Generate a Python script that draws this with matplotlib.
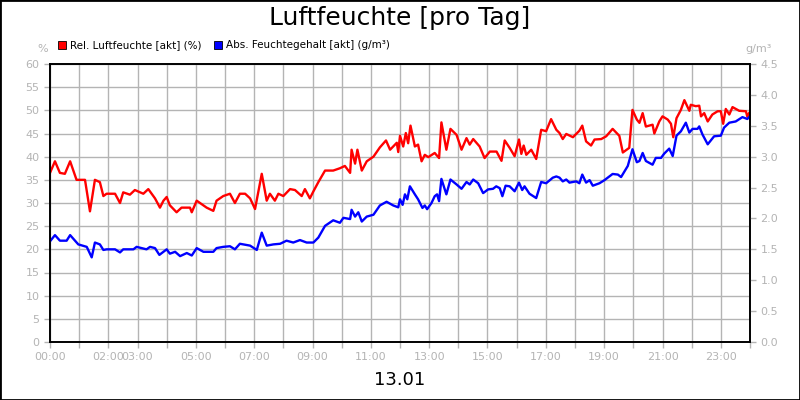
import matplotlib
matplotlib.use("Agg")
import matplotlib.pyplot as plt
from matplotlib.patches import Rectangle

# Rel. Luftfeuchte (%) - hours / values
rel_h = [0.00, 0.17, 0.34, 0.51, 0.69, 0.91, 1.20, 1.37, 1.54, 1.71, 1.83, 1.94, 2.23, 2.40, 2.51, 2.74,
         2.91, 3.20, 3.37, 3.60, 3.77, 3.89, 4.00, 4.11, 4.34, 4.51, 4.80, 4.86, 5.03, 5.37, 5.60, 5.71,
         5.94, 6.17, 6.34, 6.51, 6.69, 6.86, 7.03, 7.26, 7.43, 7.54, 7.71, 7.83, 8.00, 8.23, 8.40, 8.63,
         8.74, 8.91, 9.03, 9.20, 9.43, 9.71, 9.94, 10.11, 10.29, 10.34, 10.46, 10.54, 10.69, 10.86, 11.09,
         11.31, 11.52, 11.66, 11.89, 11.94, 12.00,
         12.11, 12.20, 12.28, 12.36, 12.51, 12.62, 12.74, 12.85, 12.97, 13.19, 13.34, 13.42, 13.59, 13.73,
         13.94, 14.11, 14.28, 14.39, 14.51, 14.73, 14.90, 15.08, 15.31, 15.48, 15.59, 15.76, 15.93, 16.08,
         16.16, 16.24, 16.33, 16.50, 16.67, 16.84, 17.01, 17.18, 17.36, 17.47, 17.58, 17.70, 17.93, 18.15,
         18.25, 18.38, 18.55, 18.67, 18.90, 19.07, 19.29, 19.52, 19.64, 19.86, 19.97, 20.12, 20.21, 20.32,
         20.43, 20.66, 20.72, 20.89, 21.00, 21.18, 21.29, 21.37, 21.48, 21.63, 21.75, 21.92, 21.97, 22.14,
         22.26, 22.32, 22.43, 22.55, 22.71, 22.89, 23.00, 23.08, 23.17, 23.29, 23.40, 23.63, 23.86, 23.91,
         23.97]
rel_v = [36.5, 39, 36.5, 36.3, 39, 35, 35, 28.2, 35, 34.5, 31.5, 32, 32, 30, 32.3, 31.8,
         32.8, 32, 33, 31, 29, 30.5, 31.3, 29.5, 28, 29, 29, 28, 30.5, 29, 28.3, 30.5,
         31.5, 32, 30, 32, 32, 31, 28.7, 36.3, 30.5, 32, 30.5, 32, 31.5, 33, 32.8, 31.5,
         33, 31, 32.5, 34.5, 37, 37, 37.5, 38, 36.5, 41.5, 38.5, 41.5, 37, 39, 40,
         42, 43.5, 41.5, 43, 41, 44.5,
         42.2, 45.1, 42.9, 46.7, 42.2, 42.6, 39.0, 40.4, 39.9, 40.8, 39.7, 47.4, 41.5, 46.0,
         44.7, 41.5, 44.0, 42.6, 43.8, 42.2, 39.7, 41.1, 41.1, 39.1, 43.5, 41.9, 40.1, 43.7,
         40.6, 42.4, 40.4, 41.5, 39.5, 45.8, 45.5, 48.1, 45.8, 45.1, 43.8, 44.9, 44.2, 45.6,
         46.7, 43.3, 42.4, 43.7, 43.8, 44.4, 46.0, 44.5, 40.9, 41.9, 50.1, 48.0, 47.3, 49.4,
         46.5, 46.9, 45.0, 47.6, 48.7, 48.0, 47.1, 44.2, 48.3, 50.1, 52.2, 49.9, 51.2, 50.9,
         51.0, 48.7, 49.4, 47.6, 49.1, 49.8, 49.8, 47.1, 50.3, 49.1, 50.7, 49.9, 49.8, 48.6,
         49.4]

# Abs. Feuchtegehalt (g/m³)
abs_h = [0.00, 0.17, 0.34, 0.57, 0.69, 0.97, 1.26, 1.43, 1.54, 1.71, 1.83, 1.94, 2.23, 2.40, 2.51, 2.86,
         2.97, 3.31, 3.43, 3.60, 3.75, 3.89, 4.00, 4.11, 4.29, 4.46, 4.69, 4.86, 5.03, 5.26, 5.60, 5.71,
         5.94, 6.17, 6.34, 6.51, 6.86, 7.09, 7.26, 7.43, 7.66, 7.89, 8.11, 8.34, 8.57, 8.80, 9.03, 9.20,
         9.43, 9.71, 9.94, 10.06, 10.29, 10.34, 10.46, 10.57, 10.69, 10.86, 11.09, 11.31, 11.54, 11.77,
         11.94, 12.00,
         12.09, 12.17, 12.25, 12.34, 12.51, 12.62, 12.77, 12.85, 12.93, 13.08, 13.19, 13.27, 13.34, 13.42,
         13.59, 13.73, 13.94, 14.11, 14.28, 14.39, 14.51, 14.68, 14.85, 15.02, 15.19, 15.30, 15.42, 15.51,
         15.62, 15.76, 15.93, 16.08, 16.19, 16.27, 16.44, 16.67, 16.84, 17.01, 17.24, 17.36, 17.47, 17.58,
         17.70, 17.81, 18.04, 18.15, 18.25, 18.38, 18.50, 18.61, 18.84, 19.01, 19.29, 19.47, 19.58, 19.81,
         19.97, 20.12, 20.21, 20.32, 20.43, 20.66, 20.77, 20.95, 21.06, 21.23, 21.35, 21.48, 21.63, 21.80,
         21.92, 22.03, 22.20, 22.26, 22.37, 22.55, 22.77, 23.00, 23.11, 23.29, 23.51, 23.74, 23.91, 23.97]
abs_v = [1.63, 1.73, 1.64, 1.64, 1.73, 1.58, 1.54, 1.37, 1.61, 1.58, 1.49, 1.50, 1.50, 1.45, 1.50, 1.50,
         1.54, 1.50, 1.54, 1.52, 1.41, 1.46, 1.50, 1.43, 1.46, 1.39, 1.44, 1.40, 1.52, 1.46, 1.46, 1.52,
         1.54, 1.55, 1.50, 1.59, 1.56, 1.49, 1.77, 1.56, 1.58, 1.59, 1.64, 1.61, 1.65, 1.61, 1.61, 1.69,
         1.88, 1.97, 1.93, 2.01, 1.99, 2.14, 2.03, 2.10, 1.95, 2.03, 2.06, 2.21, 2.27, 2.21,
         2.18, 2.31,
         2.22, 2.39, 2.31, 2.52, 2.39, 2.31, 2.17, 2.21, 2.15, 2.25, 2.36, 2.39, 2.28, 2.64,
         2.39, 2.63, 2.55, 2.48, 2.59, 2.55, 2.63, 2.57, 2.41, 2.47, 2.48, 2.52, 2.49, 2.36,
         2.53, 2.52, 2.44, 2.58, 2.46, 2.52, 2.40, 2.33, 2.59, 2.57, 2.66, 2.68, 2.66, 2.60,
         2.63, 2.58, 2.60, 2.57, 2.71, 2.58, 2.62, 2.53, 2.57, 2.62, 2.72, 2.71, 2.67, 2.85,
         3.12, 2.91, 2.93, 3.06, 2.93, 2.87, 2.98, 2.98, 3.05, 3.13, 3.01, 3.34, 3.41, 3.55,
         3.39, 3.45, 3.45, 3.49, 3.36, 3.20, 3.33, 3.34, 3.47, 3.55, 3.57, 3.64, 3.61, 3.64]

tick_hours = list(range(25))
label_hours = [0, 2, 3, 5, 7, 9, 11, 13, 15, 17, 19, 21, 23]

grey = "#b4b4b4"
fig = plt.figure(figsize=(8, 4), dpi=100)
fig.patches.append(Rectangle((0, 0), 1, 1, transform=fig.transFigure, fill=False,
                             edgecolor="black", linewidth=2))
ax = fig.add_axes([0.0625, 0.145, 0.875, 0.695])
ax2 = ax.twinx()

ax.plot(rel_h, rel_v, color="#ff0000", linewidth=1.7)
ax2.plot(abs_h, abs_v, color="#0000ff", linewidth=1.7)

ax.set_xlim(0, 24)
ax.set_ylim(0, 60)
ax2.set_ylim(0, 4.5)
ax.set_xticks(tick_hours)
ax.set_xticklabels(["%02d:00" % h if h in label_hours else "" for h in tick_hours])
ax.set_yticks(range(0, 61, 5))
ax2.set_yticks([i * 0.5 for i in range(10)])
ax2.set_yticklabels(["%.1f" % (i * 0.5) for i in range(10)])
ax.grid(True, color=grey, linewidth=1)
ax.set_axisbelow(True)
for a in (ax, ax2):
    a.tick_params(colors=grey, labelsize=8, length=4, width=1, labelcolor=grey)
    for s in a.spines.values():
        s.set_color("black")
        s.set_linewidth(1.2)

fig.text(0.5, 0.955, "Luftfeuchte [pro Tag]", ha="center", va="center", fontsize=18)
fig.text(0.5, 0.05, "13.01", ha="center", va="center", fontsize=13)
fig.text(0.053, 0.878, "%", ha="center", va="center", fontsize=8, color=grey)
fig.text(0.965, 0.878, "g/m³", ha="right", va="center", fontsize=8, color=grey)

fig.patches.append(Rectangle((0.073, 0.878), 0.0095, 0.019, transform=fig.transFigure,
                             facecolor="#ff0000", edgecolor="black", linewidth=0.6))
fig.text(0.087, 0.888, "Rel. Luftfeuchte [akt] (%)", va="center", fontsize=7.5)
fig.patches.append(Rectangle((0.268, 0.878), 0.0095, 0.019, transform=fig.transFigure,
                             facecolor="#0000ff", edgecolor="black", linewidth=0.6))
fig.text(0.282, 0.888, "Abs. Feuchtegehalt [akt] (g/m³)", va="center", fontsize=7.5)

fig.savefig("out.png", dpi=100)
